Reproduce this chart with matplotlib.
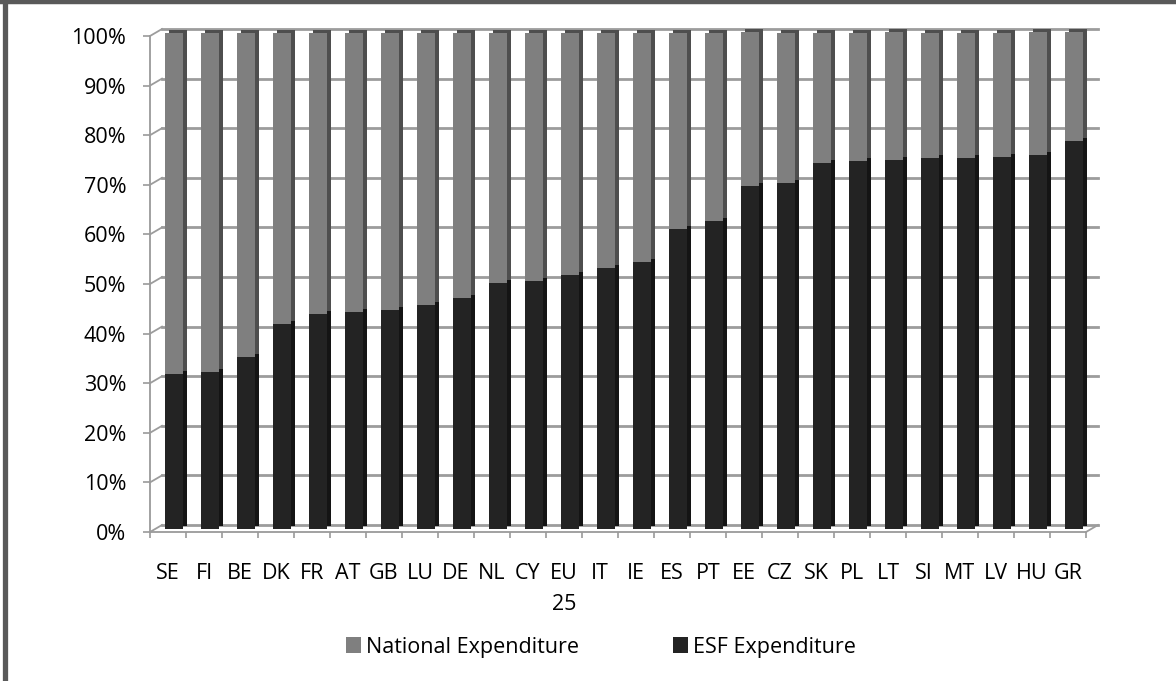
import numpy as np
import matplotlib.pyplot as plt
from matplotlib import transforms
from matplotlib.lines import Line2D

plt.rcParams['font.family'] = ['Open Sans', 'DejaVu Sans']

# Share of ESF vs national expenditure per member state (%)
countries = ['SE', 'FI', 'BE', 'DK', 'FR', 'AT', 'GB', 'LU', 'DE', 'NL', 'CY', 'EU\n25',
             'IT', 'IE', 'ES', 'PT', 'EE', 'CZ', 'SK', 'PL', 'LT', 'SI', 'MT', 'LV', 'HU', 'GR']
esf = [31.1, 31.5, 34.5, 41.3, 43.3, 43.6, 44.1, 45.1, 46.4, 49.4, 50.0, 51.2,
       52.6, 53.8, 60.3, 62.0, 69.1, 69.6, 73.7, 74.1, 74.3, 74.6, 74.7, 75.0, 75.3, 78.2]
national = [68.9, 68.5, 65.5, 58.7, 56.7, 56.4, 55.9, 54.9, 53.6, 50.6, 50.0, 48.8,
            47.4, 46.2, 39.7, 38.0, 30.9, 30.4, 26.3, 25.9, 25.7, 25.4, 25.3, 25.0, 24.7, 21.8]
y_ticks = list(range(0, 101, 10))

W, H = 1176, 681
fig = plt.figure(figsize=(W / 100, H / 100), dpi=100)
fig.patch.set_facecolor('white')

# axes = front plane of the 3D box
ax = fig.add_axes([150 / W, 149 / H, 936 / W, 496 / H])
ax.set_xlim(-0.5, len(countries) - 0.5)
ax.set_ylim(0, 100)
x = np.arange(len(countries))

grid_c = '#9c9c9c'
axis_c = '#9a9a9a'
fs = 15.5

# depth offsets in pixels
wall = transforms.offset_copy(ax.transData, fig=fig, x=12, y=7, units='dots')
bar_front = transforms.offset_copy(ax.transData, fig=fig, x=6, y=3.5, units='dots')
bar_back = transforms.offset_copy(ax.transData, fig=fig, x=9.5, y=6.5, units='dots')

# back wall gridlines and left wall diagonals
x0, x1 = ax.get_xlim()
for v in y_ticks:
    ax.plot([x0, x1], [v, v], color=grid_c, lw=2.0, transform=wall, clip_on=False, zorder=1)
    p = ax.transData.transform((x0, v))
    fig.add_artist(Line2D([p[0], p[0] + 12], [p[1], p[1] + 7], color=grid_c, lw=1.3,
                          transform=transforms.IdentityTransform(), zorder=1))
# right edge of the floor
p = ax.transData.transform((x1, 0))
fig.add_artist(Line2D([p[0], p[0] + 12], [p[1], p[1] + 7], color=grid_c, lw=1.3,
                      transform=transforms.IdentityTransform(), zorder=1))

# bar sides/tops (darker, pushed back) then the front faces
ax.bar(x, esf, 0.5, color='#141414', transform=bar_back, clip_on=False, zorder=3)
ax.bar(x, national, 0.5, bottom=esf, color='#4e4e4e', transform=bar_back, clip_on=False, zorder=3)
ax.bar(x, esf, 0.5, color='#232323', transform=bar_front, clip_on=False, zorder=4,
       label='ESF Expenditure')
ax.bar(x, national, 0.5, bottom=esf, color='#7f7f7f', transform=bar_front, clip_on=False,
       zorder=4, label='National Expenditure')

for s in ['top', 'right']:
    ax.spines[s].set_visible(False)
for s in ['left', 'bottom']:
    ax.spines[s].set_color(axis_c)
    ax.spines[s].set_linewidth(1.3)
ax.patch.set_alpha(0)

ax.set_yticks(y_ticks)
ax.set_yticklabels([f'{v}%' for v in y_ticks])
ax.tick_params(axis='y', length=5, width=1.2, color=axis_c, pad=12, labelsize=fs)
ax.set_xticks(x)
ax.set_xticklabels(countries, linespacing=1.65)
ax.set_xticks(np.arange(len(countries) + 1) - 0.5, minor=True)
ax.tick_params(axis='x', which='major', length=0, pad=22, labelsize=fs)
ax.tick_params(axis='x', which='minor', length=4.5, width=1.2, color=axis_c)

h, l = ax.get_legend_handles_labels()
fig.legend(h[::-1], l[::-1], ncol=2, loc='center', bbox_to_anchor=(601 / W, 34 / H),
           frameon=False, fontsize=fs, handlelength=0.7, handleheight=0.7,
           handletextpad=0.22, columnspacing=4.4)

# dark frame on top and left
fig.add_artist(Line2D([0, 1], [1 - 1.5 / H, 1 - 1.5 / H], color='#595959', lw=3.2))
fig.add_artist(Line2D([4.5 / W, 4.5 / W], [0, 1], color='#595959', lw=3.8))

fig.savefig('out.png', dpi=100)
